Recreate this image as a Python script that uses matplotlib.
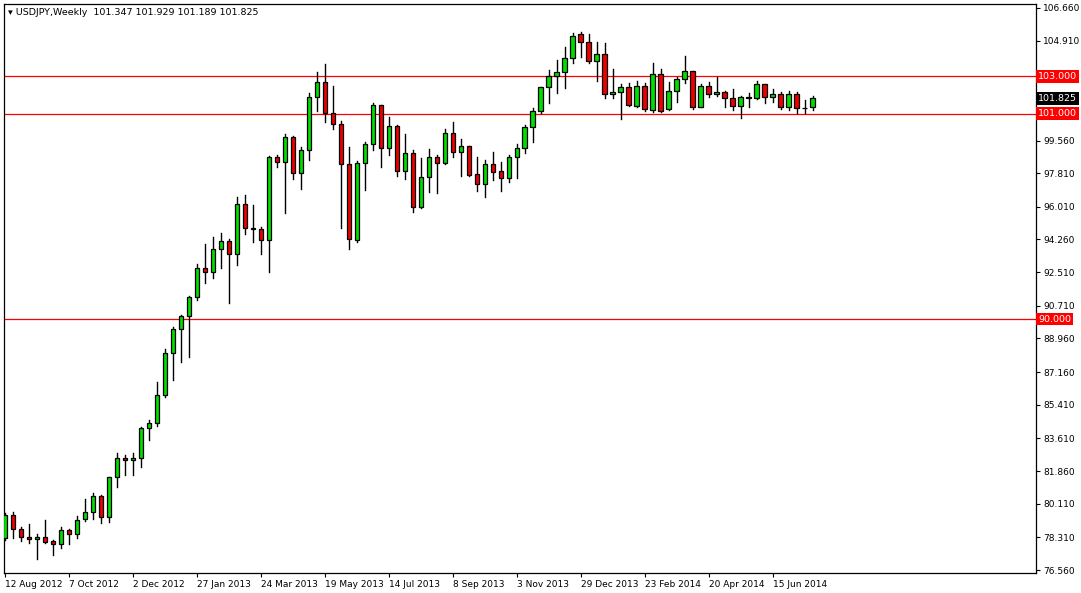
import matplotlib
matplotlib.use("Agg")
import matplotlib.pyplot as plt
from matplotlib.patches import Rectangle

# weekly USDJPY candles, 12 Aug 2012 .. Jul 2014
opens = [78.27, 79.51, 78.76, 78.33, 78.22, 78.33, 78.11, 77.95, 78.70, 78.49,
         79.29, 79.67, 80.52, 79.40, 81.54, 82.56, 82.45, 82.56, 84.17, 84.43,
         85.93, 88.18, 89.47, 90.16, 91.18, 92.73, 92.52, 93.75, 94.18, 93.48,
         96.16, 94.88, 94.82, 94.23, 98.68, 98.41, 99.75, 97.82, 99.05, 101.89,
         102.70, 101.04, 100.45, 98.30, 94.23, 98.36, 99.38, 101.46, 99.16, 100.34,
         97.93, 98.89, 96.00, 97.61, 98.68, 98.36, 99.97, 98.95, 99.27, 97.77,
         97.23, 98.30, 97.93, 97.55, 98.68, 99.16, 100.29, 101.14, 102.43, 103.02,
         103.23, 103.98, 105.27, 104.84, 103.82, 104.20, 102.05, 102.16, 102.43, 101.41,
         102.48, 101.20, 103.13, 101.25, 102.21, 102.86, 103.29, 101.36, 102.48, 102.05,
         102.16, 101.84, 101.41, 101.89, 101.84, 102.59, 101.89, 102.05, 101.36, 102.05,
         101.30, 101.347]
highs = [79.61, 79.67, 78.86, 79.02, 78.49, 79.24, 78.17, 78.86, 78.76, 79.45,
         80.36, 80.68, 80.58, 81.54, 82.83, 82.72, 82.83, 84.22, 84.59, 86.63,
         88.40, 89.57, 90.22, 91.24, 92.95, 94.02, 94.40, 94.61, 94.29, 96.54,
         96.64, 96.11, 94.93, 98.73, 98.79, 99.91, 99.80, 99.22, 102.11, 103.23,
         103.66, 102.48, 100.61, 99.22, 98.47, 99.48, 101.57, 101.46, 100.82, 100.39,
         99.91, 99.05, 98.63, 99.11, 98.79, 100.18, 100.55, 99.64, 99.27, 98.68,
         98.52, 98.95, 98.41, 98.79, 99.38, 100.39, 101.30, 102.43, 103.34, 103.87,
         104.57, 105.32, 105.37, 105.27, 104.84, 104.79, 103.39, 102.59, 102.64, 102.75,
         102.64, 103.71, 103.39, 102.70, 102.96, 104.09, 103.29, 102.59, 102.70, 102.96,
         102.21, 102.32, 101.95, 102.11, 102.75, 102.59, 102.32, 102.16, 102.21, 102.16,
         101.73, 101.929]
lows = [78.17, 78.27, 78.11, 78.01, 77.15, 78.01, 77.36, 77.74, 77.95, 78.27,
        79.18, 79.29, 79.08, 79.13, 81.01, 81.65, 81.65, 82.08, 83.52, 84.27,
        85.83, 86.74, 87.70, 87.97, 91.02, 91.93, 92.20, 92.73, 90.86, 92.90,
        94.56, 94.13, 93.48, 92.52, 98.14, 95.68, 97.50, 96.97, 98.52, 101.14,
        100.55, 100.18, 94.88, 93.75, 94.13, 96.91, 99.05, 98.14, 98.79, 97.66,
        97.50, 95.73, 95.95, 96.81, 96.75, 98.30, 98.68, 97.66, 97.66, 96.86,
        96.54, 97.45, 96.86, 97.34, 97.55, 98.89, 99.48, 101.04, 101.57, 102.11,
        102.38, 103.71, 104.04, 103.71, 102.75, 101.84, 101.84, 100.71, 101.41, 101.36,
        101.14, 101.09, 101.09, 101.20, 101.63, 102.64, 101.25, 101.36, 101.89, 101.95,
        101.36, 101.20, 100.77, 101.36, 101.79, 101.57, 101.63, 101.25, 101.20, 101.04,
        101.04, 101.189]
closes = [79.51, 78.76, 78.33, 78.22, 78.33, 78.06, 77.95, 78.70, 78.49, 79.24,
          79.67, 80.52, 79.40, 81.54, 82.56, 82.45, 82.56, 84.17, 84.43, 85.93,
          88.18, 89.47, 90.16, 91.18, 92.73, 92.52, 93.75, 94.18, 93.48, 96.16,
          94.88, 94.82, 94.23, 98.68, 98.41, 99.75, 97.82, 99.05, 101.89, 102.70,
          101.04, 100.45, 98.30, 94.29, 98.36, 99.38, 101.46, 99.16, 100.34, 97.93,
          98.89, 96.00, 97.61, 98.68, 98.36, 99.97, 98.95, 99.27, 97.72, 97.23,
          98.30, 97.88, 97.55, 98.68, 99.16, 100.29, 101.14, 102.43, 103.02, 103.23,
          103.98, 105.16, 104.84, 103.82, 104.20, 102.05, 102.16, 102.43, 101.46, 102.48,
          101.25, 103.13, 101.14, 102.21, 102.86, 103.29, 101.36, 102.48, 102.05, 102.16,
          101.84, 101.41, 101.89, 101.84, 102.59, 101.89, 102.05, 101.36, 102.05, 101.30,
          101.28, 101.825]

date_labels = ["12 Aug 2012", "7 Oct 2012", "2 Dec 2012", "27 Jan 2013", "24 Mar 2013",
               "19 May 2013", "14 Jul 2013", "8 Sep 2013", "3 Nov 2013", "29 Dec 2013",
               "23 Feb 2014", "20 Apr 2014", "15 Jun 2014"]
price_ticks = [106.66, 104.91, 99.56, 97.81, 96.01, 94.26, 92.51, 90.71, 88.96,
               87.16, 85.41, 83.61, 81.86, 80.11, 78.31, 76.56]
levels = [103.0, 101.0, 90.0]

W, H = 1081, 593
fig = plt.figure(figsize=(W / 100, H / 100), dpi=100)
ax = fig.add_axes([4 / W, 20 / H, 1032 / W, 569 / H])
ax.set_xlim(-0.125, 128.9)
ax.set_ylim(76.40, 106.87)

for i, (o, h, l, c) in enumerate(zip(opens, highs, lows, closes)):
    ax.plot([i, i], [l, h], color="black", lw=1.0, zorder=2)
    col = "#00dd00" if c >= o else "#ee0000"
    lo, hi = min(o, c), max(o, c)
    ax.add_patch(Rectangle((i - 0.3, lo), 0.6, max(hi - lo, 0.03),
                           facecolor=col, edgecolor="black", lw=0.9, zorder=3))

for lv in levels:
    ax.axhline(lv, color="red", lw=0.9, zorder=1)

ax.yaxis.tick_right()
ax.set_yticks(price_ticks)
ax.set_yticklabels(["%.3f" % t for t in price_ticks])
ax.set_xticks(range(0, 8 * len(date_labels), 8))
ax.set_xticklabels(date_labels, ha="left")
ax.tick_params(axis="both", labelsize=6.5, length=3, width=0.8, pad=2, colors="black")
for s in ax.spines.values():
    s.set_linewidth(0.9)

tag = dict(fontsize=6.8, va="center", ha="left", transform=ax.get_yaxis_transform(),
           clip_on=False)
for lv in levels:
    ax.text(1.002, lv, "%.3f" % lv, color="white",
            bbox=dict(boxstyle="square,pad=0.2", fc="red", ec="none"), **tag)
ax.text(1.002, closes[-1], "%.3f" % closes[-1], color="white",
        bbox=dict(boxstyle="square,pad=0.2", fc="black", ec="none"), **tag)

ax.text(0.004, 0.993, "\u25BE USDJPY,Weekly  %.3f %.3f %.3f %.3f"
        % (opens[-1], highs[-1], lows[-1], closes[-1]),
        transform=ax.transAxes, fontsize=6.8, va="top", ha="left")

fig.savefig("out.png", dpi=100, facecolor="white")
